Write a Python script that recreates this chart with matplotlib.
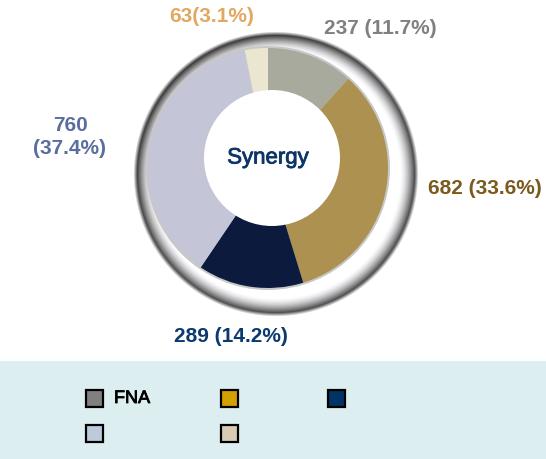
import matplotlib
matplotlib.use("Agg")
import matplotlib.pyplot as plt
import matplotlib.patheffects as pe
from matplotlib.patches import Circle, Rectangle
import numpy as np

# ---- data ----
categories = ["FNA", "", "", "", ""]
values = [237, 682, 289, 760, 63]
wedge_colors = ["#a9aa9e", "#ad9150", "#0c1b3d", "#c4c5d7", "#ebe6cf"]
legend_colors = ["#808080", "#d4a000", "#003366", "#bccadb", "#d8cbb3"]
label_formats = ["{v} ({p:.1f}%)", "{v} ({p:.1f}%)", "{v} ({p:.1f}%)", "{v}\n({p:.1f}%)", "{v}({p:.1f}%)"]
label_colors = ["#808080", "#7a5a1e", "#0b3a70", "#5a6e9e", "#e2a860"]
center_title = "Synergy"

# ---- layout (pixel coords, y from top) ----
W, H = 546, 459
label_pos = [(380, 28), (485, 188), (231, 337), (70, 137), (212, 17)]
pie_c = (268, 168)
pie_r = 120
hole_c = (272, 158)
hole_r = 68
bez_c = (276, 174)
bez_R = 141

def Y(y):
    return H - y

fig = plt.figure(figsize=(W / 100, H / 100), dpi=100)
ax = fig.add_axes([0, 0, 1, 1])

# legend band
ax.add_patch(Rectangle((0, 0), W, Y(361), facecolor="#ddeef0", edgecolor="none", zorder=0))

# metallic bezel as a shaded image
yy, xx = np.mgrid[0:H, 0:W] + 0.5
d = np.hypot(xx - bez_c[0], yy - bez_c[1])
inner = bez_R - 17
t = np.clip((d - inner) / (bez_R - 2 - inner), 0, 1)
v = 1.0 - 0.72 * t ** 1.6
# lighting: darker at top-left
ang = np.arctan2(yy - bez_c[1], xx - bez_c[0])
v = v - 0.08 * t * np.clip(-np.sin(ang + 0.6), 0, 1)
alpha = np.clip((bez_R + 1.5 - d) / 4.0, 0, 1)
img = np.zeros((H, W, 4))
img[..., 0] = v
img[..., 1] = v
img[..., 2] = v * 1.01
img[..., 3] = alpha
img = np.clip(img, 0, 1)
ax.imshow(img, extent=(0, W, 0, H), origin="upper", zorder=1, interpolation="bilinear")

# thin rim around pie
ax.add_patch(Circle((pie_c[0], Y(pie_c[1])), pie_r + 2, facecolor="#c8c8c8", edgecolor="none", zorder=4))

# pie
wedges, _ = ax.pie(values, colors=wedge_colors, startangle=90, counterclock=False,
                   center=(pie_c[0], Y(pie_c[1])), radius=pie_r,
                   wedgeprops=dict(linewidth=0, edgecolor="none"), frame=True)
for w in wedges:
    w.set_zorder(5)
ax.set_xlim(0, W)
ax.set_ylim(0, H)
ax.set_aspect("equal")
ax.axis("off")

# hole
ax.add_patch(Circle((hole_c[0], Y(hole_c[1])), hole_r, facecolor="white", edgecolor="none", zorder=6))
ax.text(hole_c[0] - 4, Y(hole_c[1]), center_title, ha="center", va="center",
        fontsize=16, color="#0d3566", family="Liberation Sans", zorder=7,
        path_effects=[pe.withStroke(linewidth=0.6, foreground="#0d3566")])

# labels
total = sum(values)
for v_, fmt, col, (x, y) in zip(values, label_formats, label_colors, label_pos):
    p = 100.0 * v_ / total
    ax.text(x, Y(y), fmt.format(v=v_, p=p), ha="center", va="center", fontsize=15,
            fontweight="bold", color=col, family="Liberation Sans", linespacing=1.3, zorder=8)

# legend (row-major, 3 columns)
col_x = [86, 221, 328]
row_y = [390, 425]
sq = 17
for i, (name, c) in enumerate(zip(categories, legend_colors)):
    r, k = divmod(i, 3)
    x0, y0 = col_x[k], row_y[r]
    ax.add_patch(Rectangle((x0, Y(y0 + sq)), sq, sq, facecolor=c, edgecolor="black",
                           linewidth=1.6, zorder=9))
    if name:
        ax.text(x0 + sq + 11, Y(y0 + sq / 2), name, ha="left", va="center", fontsize=13,
                color="black", family="Liberation Sans", zorder=9,
                path_effects=[pe.withStroke(linewidth=0.6, foreground="black")])

fig.savefig("out.png", dpi=100)
